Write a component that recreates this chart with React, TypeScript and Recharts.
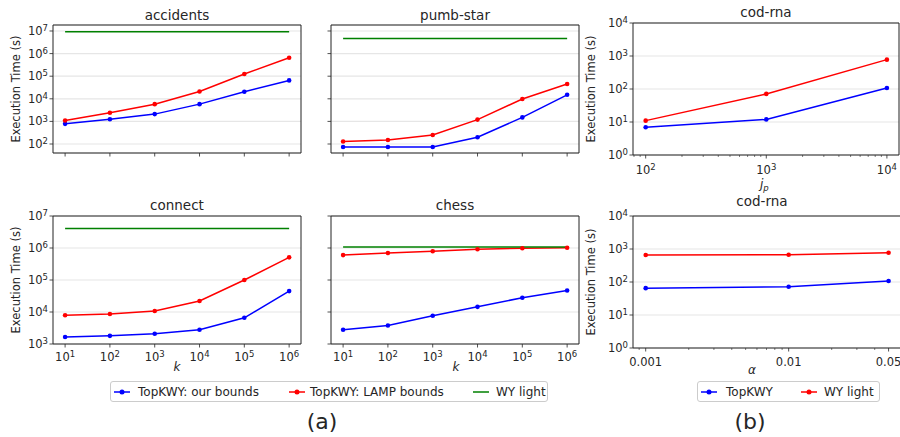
import React from 'react';
import { LineChart, Line, XAxis, YAxis, CartesianGrid, ReferenceArea } from 'recharts';

const FONT = "'DejaVu Sans', sans-serif";
const INK = '#262626';
const BLUE = '#0000ff';
const RED = '#ff0000';
const GREEN = '#008000';

// (a) sweep over k
const kValues = [10, 100, 1000, 10000, 100000, 1000000];

const accidentsOur = [780, 1250, 2100, 5800, 20500, 65000];
const accidentsLamp = [1100, 2400, 5800, 21000, 125000, 650000];
const accidentsWy = [9.3e6, 9.3e6, 9.3e6, 9.3e6, 9.3e6, 9.3e6];

const pumbOur = [74, 74, 74, 200, 1500, 15000];
const pumbLamp = [130, 150, 250, 1200, 9800, 45000];
const pumbWy = [4.7e6, 4.7e6, 4.7e6, 4.7e6, 4.7e6, 4.7e6];

const connectOur = [1650, 1800, 2100, 2800, 6600, 45000];
const connectLamp = [7900, 8700, 10700, 22000, 100000, 510000];
const connectWy = [4.1e6, 4.1e6, 4.1e6, 4.1e6, 4.1e6, 4.1e6];

const chessOur = [2800, 3800, 7600, 14500, 28000, 47000];
const chessLamp = [600000, 700000, 790000, 910000, 980000, 1020000];
const chessWy = [1.07e6, 1.07e6, 1.07e6, 1.07e6, 1.07e6, 1.07e6];

// (b) cod-rna
const jpValues = [100, 1000, 10000];
const jpTopKWY = [6.9, 12, 107];
const jpWyLight = [11, 71, 776];

const alphaValues = [0.001, 0.01, 0.05];
const alphaTopKWY = [65, 72, 107];
const alphaWyLight = [660, 670, 770];

// ticks
const kTicks = [10, 100, 1000, 10000, 100000, 1000000];
const timeTicksTop = [100, 1000, 10000, 100000, 1000000, 10000000];
const timeTicksBottom = [1000, 10000, 100000, 1000000, 10000000];
const codTimeTicks = [1, 10, 100, 1000, 10000];
const jpTicks = [100, 1000, 10000];
const jpMinorTicks = [80, 90, 200, 300, 400, 500, 600, 700, 800, 900, 2000, 3000, 4000, 5000, 6000, 7000, 8000, 9000];
const alphaTicks = [0.001, 0.01, 0.05];
const alphaTickLabels = ['0.001', '0.01', '0.05'];
const alphaMinorTicks = [0.0009, 0.002, 0.003, 0.004, 0.005, 0.006, 0.007, 0.008, 0.009, 0.02, 0.03, 0.04];

const kDomain: [number, number] = [5.37, 1.84e6];
const timeDomainTop: [number, number] = [40, 1.84e7];
const timeDomainBottom: [number, number] = [1000, 1e7];
const codTimeDomain: [number, number] = [1, 10000];
const jpDomain: [number, number] = [78.5, 12600];
const alphaDomain: [number, number] = [0.000815, 0.0706];

const expOf = (v: number) => String(Math.round(Math.log10(v)));

const powerLabel = (v: number) => (
  <>
    10<tspan dy="-0.45em" fontSize={8.5}>{expOf(v)}</tspan>
  </>
);

type Series = { name: string; color: string; values: number[]; dots: boolean };

interface PanelProps {
  left: number;
  top: number;
  plotW: number;
  plotH: number;
  xValues: number[];
  xDomain: [number, number];
  xTicks: number[];
  xMinor?: number[];
  xLabel?: (v: number) => React.ReactNode;
  xLabelOffset?: number;
  yDomain: [number, number];
  yTicks: number[];
  yLabels: boolean;
  series: Series[];
}

const TOP_PAD = 12;

const Panel = ({ left, top, plotW, plotH, xValues, xDomain, xTicks, xMinor = [], xLabel, xLabelOffset = 16.5, yDomain, yTicks, yLabels, series }: PanelProps) => {
  const data = xValues.map((xv, i) => {
    const row: any = { x: xv };
    series.forEach(s => { row[s.name] = s.values[i]; });
    return row;
  });
  const minorSet = new Set(xMinor);

  const renderXTick = (p: any) => {
    const v = p.payload.value;
    const minor = minorSet.has(v);
    const idx = xTicks.indexOf(v);
    return (
      <g>
        <line x1={p.x} x2={p.x} y1={p.y} y2={p.y + (minor ? 2 : 3.5)} stroke={INK} strokeWidth={minor ? 0.6 : 0.8} />
        {!minor && xLabel && idx >= 0 && (
          <text x={p.x} y={p.y + xLabelOffset} textAnchor="middle" fontSize={11.5} fill={INK} fontFamily={FONT}>
            {xLabel(v)}
          </text>
        )}
      </g>
    );
  };

  const renderYTick = (p: any) => (
    <g>
      <line x1={p.x - 3.5} x2={p.x} y1={p.y} y2={p.y} stroke={INK} strokeWidth={0.8} />
      {yLabels && (
        <text x={p.x - 5} y={p.y} dy="0.35em" textAnchor="end" fontSize={11.5} fill={INK} fontFamily={FONT}>
          {powerLabel(p.payload.value)}
        </text>
      )}
    </g>
  );

  return (
    <div style={{ position: 'absolute', left: left - 50, top: top - TOP_PAD }}>
      <LineChart width={plotW + 60} height={plotH + TOP_PAD + 25} data={data} margin={{ top: TOP_PAD, right: 10, bottom: 0, left: 0 }}>
        <CartesianGrid vertical={false} stroke="#e6e6e6" strokeWidth={1.2} />
        <XAxis
          dataKey="x"
          type="number"
          scale="log"
          domain={xDomain}
          allowDataOverflow
          ticks={[...xTicks, ...xMinor]}
          interval={0}
          height={25}
          axisLine={false}
          tickLine={false}
          tickSize={0}
          tickMargin={0}
          tick={renderXTick}
        />
        <YAxis
          type="number"
          scale="log"
          domain={yDomain}
          allowDataOverflow
          ticks={yTicks}
          interval={0}
          width={50}
          axisLine={false}
          tickLine={false}
          tickSize={0}
          tickMargin={0}
          tick={renderYTick}
        />
        {series.map(s => (
          <Line
            key={s.name}
            dataKey={s.name}
            type="linear"
            stroke={s.color}
            strokeWidth={1.5}
            dot={s.dots ? { r: 2.3, fill: s.color, stroke: s.color, strokeWidth: 0 } : false}
            activeDot={false}
            isAnimationActive={false}
          />
        ))}
        <ReferenceArea x1={xDomain[0]} x2={xDomain[1]} y1={yDomain[0]} y2={yDomain[1]} fill="none" stroke="#222" strokeWidth={1} ifOverflow="visible" />
      </LineChart>
    </div>
  );
};

const kSeries = (our: number[], lamp: number[], wy: number[]): Series[] => [
  { name: 'TopKWY: our bounds', color: BLUE, values: our, dots: true },
  { name: 'TopKWY: LAMP bounds', color: RED, values: lamp, dots: true },
  { name: 'WY light', color: GREEN, values: wy, dots: false },
];

const codSeries = (top: number[], wy: number[]): Series[] => [
  { name: 'TopKWY', color: BLUE, values: top, dots: true },
  { name: 'WY light', color: RED, values: wy, dots: true },
];

const LegendKey = ({ x, color, dot }: { x: number; color: string; dot: boolean }) => (
  <svg style={{ position: 'absolute', left: x, top: 5 }} width={16} height={10}>
    <line x1={0} x2={16} y1={5} y2={5} stroke={color} strokeWidth={1.5} />
    {dot && <circle cx={8} cy={5} r={2.5} fill={color} />}
  </svg>
);

const legendText = (x: number, label: string) => (
  <span style={{ position: 'absolute', left: x, top: 3, fontSize: 12, lineHeight: '14px', color: INK, whiteSpace: 'nowrap' }}>{label}</span>
);

export default function App() {
  const txt = { fontFamily: FONT, fill: INK } as const;
  return (
    <div style={{ position: 'absolute', left: 0, top: 0, width: 900, height: 437, overflow: 'hidden', background: '#fff', fontFamily: FONT }}>
      <Panel left={53} top={25} plotW={248} plotH={128} xValues={kValues} xDomain={kDomain} xTicks={kTicks}
        yDomain={timeDomainTop} yTicks={timeTicksTop} yLabels series={kSeries(accidentsOur, accidentsLamp, accidentsWy)} />
      <Panel left={331} top={25} plotW={248} plotH={128} xValues={kValues} xDomain={kDomain} xTicks={kTicks}
        yDomain={timeDomainTop} yTicks={timeTicksTop} yLabels={false} series={kSeries(pumbOur, pumbLamp, pumbWy)} />
      <Panel left={53} top={216} plotW={248} plotH={128} xValues={kValues} xDomain={kDomain} xTicks={kTicks} xLabel={powerLabel}
        yDomain={timeDomainBottom} yTicks={timeTicksBottom} yLabels series={kSeries(connectOur, connectLamp, connectWy)} />
      <Panel left={331} top={216} plotW={248} plotH={128} xValues={kValues} xDomain={kDomain} xTicks={kTicks} xLabel={powerLabel}
        yDomain={timeDomainBottom} yTicks={timeTicksBottom} yLabels={false} series={kSeries(chessOur, chessLamp, chessWy)} />
      <Panel left={633} top={23} plotW={266} plotH={132} xValues={jpValues} xDomain={jpDomain} xTicks={jpTicks} xMinor={jpMinorTicks}
        xLabel={powerLabel} xLabelOffset={19} yDomain={codTimeDomain} yTicks={codTimeTicks} yLabels series={codSeries(jpTopKWY, jpWyLight)} />
      <Panel left={633} top={216} plotW={277} plotH={132} xValues={alphaValues} xDomain={alphaDomain} xTicks={alphaTicks} xMinor={alphaMinorTicks}
        xLabel={(v) => alphaTickLabels[alphaTicks.indexOf(v)]} xLabelOffset={18} yDomain={codTimeDomain} yTicks={codTimeTicks} yLabels
        series={codSeries(alphaTopKWY, alphaWyLight)} />

      <svg width={900} height={437} style={{ position: 'absolute', left: 0, top: 0, pointerEvents: 'none' }}>
        <text x={177} y={20} textAnchor="middle" fontSize={13.5} {...txt}>accidents</text>
        <text x={455} y={20} textAnchor="middle" fontSize={13.5} {...txt}>pumb-star</text>
        <text x={766} y={17} textAnchor="middle" fontSize={13.5} {...txt}>cod-rna</text>
        <text x={177} y={210} textAnchor="middle" fontSize={13.5} {...txt}>connect</text>
        <text x={455} y={210} textAnchor="middle" fontSize={13.5} {...txt}>chess</text>
        <text x={762} y={206} textAnchor="middle" fontSize={13.5} {...txt}>cod-rna</text>

        {[[15.5, 89], [15.5, 280], [591, 89], [591, 282]].map(([cx, cy], i) => (
          <text key={i} x={cx} y={cy} dy="0.35em" textAnchor="middle" fontSize={11.5} transform={`rotate(-90 ${cx} ${cy})`} {...txt}>
            Execution Time (s)
          </text>
        ))}

        <text x={177} y={371} textAnchor="middle" fontSize={12} fontStyle="italic" {...txt}>k</text>
        <text x={456} y={371} textAnchor="middle" fontSize={12} fontStyle="italic" {...txt}>k</text>
        <text x={752} y={374} textAnchor="middle" fontSize={12} fontStyle="italic" {...txt}>α</text>
        <text x={760} y={188} fontSize={12} fontStyle="italic" {...txt}>j<tspan dy={2.5} fontSize={8.5}>p</tspan></text>

        <text x={322} y={429} textAnchor="middle" fontSize={22} {...txt}>(a)</text>
        <text x={750} y={429} textAnchor="middle" fontSize={22} {...txt}>(b)</text>
      </svg>

      <div style={{ position: 'absolute', left: 110, top: 381, width: 438, height: 21, border: '1px solid #cccccc', borderRadius: 3, boxSizing: 'border-box', background: '#fff' }}>
        <LegendKey x={3} color={BLUE} dot />
        {legendText(27, 'TopKWY: our bounds')}
        <LegendKey x={178} color={RED} dot />
        {legendText(199, 'TopKWY: LAMP bounds')}
        <LegendKey x={362} color={GREEN} dot={false} />
        {legendText(385, 'WY light')}
      </div>
      <div style={{ position: 'absolute', left: 697, top: 381, width: 183, height: 21, border: '1px solid #cccccc', borderRadius: 3, boxSizing: 'border-box', background: '#fff' }}>
        <LegendKey x={3} color={BLUE} dot />
        {legendText(28, 'TopKWY')}
        <LegendKey x={103} color={RED} dot />
        {legendText(126, 'WY light')}
      </div>
    </div>
  );
}
